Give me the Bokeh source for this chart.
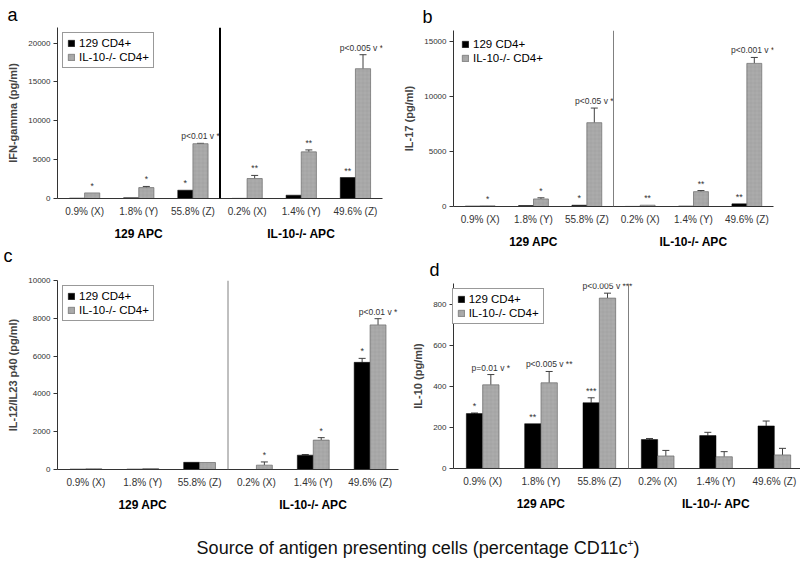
from bokeh.plotting import figure
from bokeh.models import (FactorRange, Range1d, ColumnDataSource, Span, Whisker, TeeHead,
                          SingleIntervalTicker, Div, LabelSet, Title)
from bokeh.transform import dodge
from bokeh.layouts import column, row
from bokeh.embed import file_html
from bokeh.resources import INLINE
from bokeh.core.properties import value

# ---------------- data ----------------
groups = ["129 APC", "IL-10-/- APC"]
apc_129 = ["0.9% (X)", "1.8% (Y)", "55.8% (Z)"]
apc_ko = ["0.2% (X)", "1.4% (Y)", "49.6% (Z)"]
series = ["129 CD4+", "IL-10-/- CD4+"]

# a: IFN-gamma
ifn_wt = [50, 100, 1070, 20, 430, 2700]
ifn_wt_err = [0, 0, 0, 0, 0, 0]
ifn_ko = [720, 1400, 7050, 2570, 6000, 16700]
ifn_ko_err = [0, 150, 50, 400, 250, 1800]
ifn_wt_ann = ["", "", "*", "", "", "**"]
ifn_ko_ann = ["*", "*", "p<0.01 v *", "**", "**", "p<0.005 v **"]

# b: IL-17
il17_wt = [40, 90, 120, 10, 40, 240]
il17_wt_err = [0, 0, 0, 0, 0, 0]
il17_ko = [60, 690, 7620, 120, 1350, 13010]
il17_ko_err = [0, 100, 1330, 0, 100, 540]
il17_wt_ann = ["", "", "*", "", "", "**"]
il17_ko_ann = ["*", "*", "p<0.05 v *", "**", "**", "p<0.001 v **"]

# c: IL-12/IL23 p40
il12_wt = [20, 20, 380, 0, 760, 5670]
il12_wt_err = [0, 0, 0, 0, 30, 210]
il12_ko = [40, 50, 370, 230, 1555, 7650]
il12_ko_err = [0, 0, 0, 170, 130, 330]
il12_wt_ann = ["", "", "", "", "", "*"]
il12_ko_ann = ["", "", "", "*", "*", "p<0.01 v *"]

# d: IL-10
il10_wt = [267, 218, 320, 141, 160, 207]
il10_wt_err = [3, 0, 24, 5, 16, 24]
il10_ko = [407, 417, 829, 61, 57, 66]
il10_ko_err = [50, 55, 24, 27, 25, 32]
il10_wt_ann = ["*", "**", "***", "", "", ""]
il10_ko_ann = ["p=0.01 v *", "p<0.005 v **", "p<0.005 v ***", "", "", ""]

FONT = "Liberation Sans"
factors = [(groups[0], c) for c in apc_129] + [(groups[1], c) for c in apc_ko]
BW = 0.28
OFF = 0.14


def style_title(t, off, standoff):
    t.text_font = FONT
    t.text_font_size = "18px"
    t.text_font_style = "normal"
    t.text_color = "black"
    t.align = "left"
    t.offset = off
    t.standoff = standoff


def panel(letter, ylabel, ymax, interval, wt, wt_err, ko, ko_err, wt_ann, ko_ann,
          fw, fh, bl, br, bt, bb, title_off, title_standoff, div_color, div_width,
          legend_border, legend_margin):
    p = figure(x_range=FactorRange(*factors, factor_padding=0, group_padding=0, range_padding=0),
               y_range=Range1d(0, ymax), frame_width=fw, frame_height=fh,
               min_border_left=bl, min_border_right=br, min_border_top=bt, min_border_bottom=bb,
               output_backend="svg", toolbar_location=None, title=letter)
    p.outline_line_color = None
    p.grid.visible = False
    style_title(p.title, title_off, title_standoff)

    src = ColumnDataSource(dict(
        x=factors, wt=wt, ko=ko,
        wt_up=[v + e for v, e in zip(wt, wt_err)],
        ko_up=[v + e for v, e in zip(ko, ko_err)],
        wt_ann=wt_ann, ko_ann=ko_ann))

    p.vbar(x=dodge("x", -OFF, range=p.x_range), top="wt", width=BW, source=src,
           fill_color="black", line_color="black", line_width=0.5, legend_label=series[0])
    p.vbar(x=dodge("x", OFF, range=p.x_range), top="ko", width=BW, source=src,
           fill_color="#ababab", line_color="#6a6a6a", line_width=0.7,
           hatch_pattern="+", hatch_scale=4, hatch_color="#8f8f8f", hatch_weight=0.5,
           hatch_alpha=0.6, legend_label=series[1])

    # error bars (upper only)
    for vals, errs, off in ((wt, wt_err, -OFF), (ko, ko_err, OFF)):
        idx = [i for i, e in enumerate(errs) if e > 0]
        if not idx:
            continue
        es = ColumnDataSource(dict(x=[factors[i] for i in idx],
                                   lo=[vals[i] for i in idx],
                                   up=[vals[i] + errs[i] for i in idx]))
        w = Whisker(base=dodge("x", off, range=p.x_range), lower="lo", upper="up", source=es,
                    dimension="height", line_color="#404040", line_width=1,
                    lower_head=None, upper_head=TeeHead(size=7, line_color="#404040", line_width=1))
        p.add_layout(w)

    # significance annotations
    p.add_layout(LabelSet(x=dodge("x", -OFF, range=p.x_range), y="wt_up", text="wt_ann", source=src,
                          text_font=value(FONT), text_font_size="9px", text_color="#333333",
                          text_align="center", text_baseline="bottom", y_offset=2))
    p.add_layout(LabelSet(x=dodge("x", OFF, range=p.x_range), y="ko_up", text="ko_ann", source=src,
                          text_font=value(FONT), text_font_size="8.5px", text_color="#333333",
                          text_align="center", text_baseline="bottom", y_offset=2))

    # divider between APC sources
    p.add_layout(Span(location=len(apc_129), dimension="height",
                      line_color=div_color, line_width=div_width))

    yax = p.yaxis[0]
    yax.ticker = SingleIntervalTicker(interval=interval, num_minor_ticks=0)
    yax.axis_label = ylabel
    yax.axis_label_text_font = FONT
    yax.axis_label_text_font_style = "bold"
    yax.axis_label_text_font_size = "11px"
    yax.axis_label_standoff = 6
    yax.major_label_text_font = FONT
    yax.major_label_text_font_size = "8px"
    yax.major_label_text_color = "#333333"
    yax.major_label_standoff = 3
    yax.major_tick_out = 4
    yax.major_tick_in = 0
    yax.minor_tick_line_color = None
    yax.axis_line_color = "#333333"
    yax.major_tick_line_color = "#333333"

    xax = p.xaxis[0]
    xax.major_label_text_font = FONT
    xax.major_label_text_font_size = "10px"
    xax.major_label_text_color = "#333333"
    xax.major_label_standoff = 7
    xax.major_tick_out = 0
    xax.major_tick_in = 0
    xax.major_tick_line_color = None
    xax.axis_line_color = "#333333"
    xax.group_text_font = FONT
    xax.group_text_font_size = "12px"
    xax.group_text_font_style = "bold"
    xax.group_text_color = "black"
    xax.separator_line_color = None

    lg = p.legend[0]
    lg.location = "top_left"
    lg.margin = legend_margin
    lg.padding = 4
    lg.spacing = 2
    lg.glyph_width = 8
    lg.glyph_height = 8
    lg.label_height = 12
    lg.label_standoff = 4
    lg.label_text_font = FONT
    lg.label_text_font_size = "11.5px"
    lg.label_text_color = "black"
    if legend_border:
        lg.border_line_color = "#333333"
        lg.border_line_width = 1
    else:
        lg.border_line_color = None
    lg.background_fill_alpha = 1.0
    return p


pa = panel("a", "IFN-gamma (pg/ml)", 22000, 5000, ifn_wt, ifn_wt_err, ifn_ko, ifn_ko_err,
           ifn_wt_ann, ifn_ko_ann, 325, 171, 55, 20, 27, 42, -50, 5, "black", 2, True, 5)
pc = panel("", "IL-12/IL23 p40 (pg/ml)", 10000, 2000, il12_wt, il12_wt_err, il12_ko, il12_ko_err,
           il12_wt_ann, il12_ko_ann, 341, 189, 57, 2, 15, 52, -54, 0, "#808080", 1, True, 5)
pb = panel("b", "IL-17 (pg/ml)", 16000, 5000, il17_wt, il17_wt_err, il17_ko, il17_ko_err,
           il17_wt_ann, il17_ko_ann, 320, 176, 47, 33, 29, 47, -31, 8, "#808080", 1, False, 8)
pd = panel("d", "IL-10 (pg/ml)", 900, 200, il10_wt, il10_wt_err, il10_ko, il10_ko_err,
           il10_wt_ann, il10_ko_ann, 350, 185, 42, 8, 28, 52, -24, 8, "#808080", 1, True, 5)

# letter of panel c sits in the gap under panel a
c_title = Title(text="c")
style_title(c_title, -54, 0)
pa.add_layout(c_title, "below")

title = Div(text='Source of antigen presenting cells (percentage CD11c<sup style="font-size:10px">+</sup>)',
            width=764, height=45,
            styles={"font-family": FONT, "font-size": "18px", "color": "#111111",
                    "text-align": "center", "margin-left": "36px", "padding-top": "10px"})

layout = column(row(column(pa, pc), column(pb, pd)), title)
open("out.html", "w").write(file_html(layout, INLINE))
